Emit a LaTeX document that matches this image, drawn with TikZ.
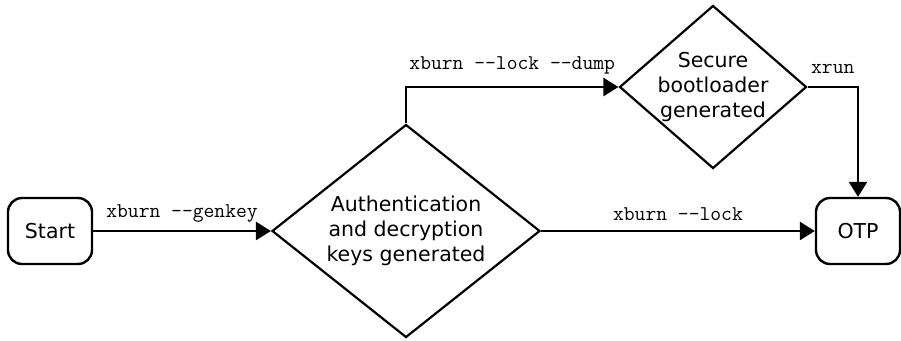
\documentclass[tikz,border=0pt]{standalone}
\usepackage{fontspec}
\setsansfont{DejaVu Sans}
\usetikzlibrary{shapes.geometric,arrows.meta}
\begin{document}
\begin{tikzpicture}[
x=1pt, y=-1pt,
every node/.style={font=\sffamily\fontsize{20.5}{25}\selectfont},
state/.style={
draw,
line width=2.4pt,
rounded corners=14pt,
minimum width=84pt,
minimum height=66pt,
inner sep=0pt
},
decision/.style={
draw,
diamond,
aspect=1.2,
line width=2.2pt,
align=center,
inner sep=-12pt
},
cmd/.style={font=\ttfamily\fontsize{21}{24}\selectfont, inner sep=7pt},
arrow/.style={-{Triangle[length=15pt,width=18pt]}, line width=2.6pt}
]
\useasboundingbox (0,0) rectangle (901,340);
\node[state] (start) at (50,231) {Start};
\node[decision, minimum width=268pt, minimum height=213pt] (keys) at (406,231)
{Authentication\\and decryption\\keys generated};
\node[decision, minimum width=187pt, minimum height=163pt] (boot) at (713,87)
{Secure\\bootloader\\generated};
\node[state] (otp) at (858,231) {OTP};
\draw[arrow] (start) -- node[cmd, above] {xburn -{}-genkey} (keys);
\draw[arrow] (keys.north) |- node[cmd, above, pos=0.75, inner sep=12pt] {xburn -{}-lock -{}-dump} (boot.west);
\draw[arrow] (boot.east) -| node[cmd, above, pos=0.25, inner sep=12pt] {xrun} (otp.north);
\draw[arrow] (keys.east) -- node[cmd, above, inner sep=9pt] {xburn -{}-lock} (otp.west);
\end{tikzpicture}
\end{document}
